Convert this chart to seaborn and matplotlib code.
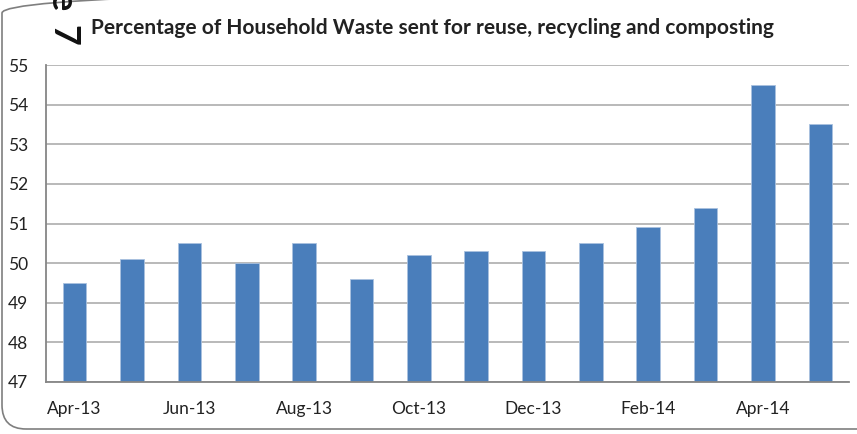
import matplotlib
matplotlib.use("Agg")
import matplotlib.pyplot as plt
import matplotlib.transforms as mtransforms
import seaborn as sns
import pandas as pd
from matplotlib.patches import FancyBboxPatch
from matplotlib.ticker import FixedLocator

months = ["Apr-13", "May-13", "Jun-13", "Jul-13", "Aug-13", "Sep-13", "Oct-13",
          "Nov-13", "Dec-13", "Jan-14", "Feb-14", "Mar-14", "Apr-14", "May-14"]
values = [49.5, 50.1, 50.5, 50.0, 50.5, 49.6, 50.2, 50.3, 50.3, 50.5, 50.9, 51.4, 54.5, 53.5]
yticks = list(range(47, 56))
title = "Percentage of Household Waste sent for reuse, recycling and composting"

sns.set_style("white")
plt.rcParams['font.family'] = ['Lato', 'DejaVu Sans']

df = pd.DataFrame({"month": months, "value": values})

fig = plt.figure(figsize=(8.57, 4.34), dpi=100)
ax = fig.add_axes([46/857, 1-382/434, 803/857, (382-65)/434])

sns.barplot(data=df, x="month", y="value", ax=ax, color="#4a7ebb",
            saturation=1, width=0.41, edgecolor="#a9c1df", linewidth=0.6)

ax.set_ylim(47, 55)
ax.set_xlim(-0.5, len(months) - 0.5)
ax.set_yticks(yticks)
ax.yaxis.grid(True, color="#a6a6a6", linewidth=1.1)
ax.set_axisbelow(True)
ax.set_xlabel("")
ax.set_ylabel("")

lab_pos = list(range(0, len(months), 2))
ax.xaxis.set_major_locator(FixedLocator(lab_pos))
ax.set_xticklabels([months[i] for i in lab_pos])
ax.xaxis.set_minor_locator(FixedLocator([i - 0.5 for i in range(0, len(months) + 1, 2)]))
ax.tick_params(axis="x", which="major", length=0, pad=14, labelsize=12.5, colors="#222222")
ax.tick_params(axis="x", which="minor", length=5, width=1.2, color="#868686", direction="out")
ax.tick_params(axis="y", which="major", length=5, width=1.2, color="#868686", direction="out",
               labelsize=12.5, labelcolor="#222222", pad=8)

for s in ["top", "right"]:
    ax.spines[s].set_visible(False)
for s in ["left", "bottom"]:
    ax.spines[s].set_color("#868686")
    ax.spines[s].set_linewidth(1.3)

fig.text(432/857, 1-28/434, title, ha="center", va="center",
         fontsize=15, fontweight="bold", color="#222222")

fig.text(63/857, 1-35/434, "7", rotation=-90, ha="center", va="center",
         fontsize=26, fontweight="bold", color="#111111")
fig.text(61/857, 1-2/434, "e", rotation=-90, ha="center", va="center",
         fontsize=26, fontweight="bold", color="#111111")

border = FancyBboxPatch((2, 5), 900, 440,
                        boxstyle="round,pad=0,rounding_size=24",
                        transform=mtransforms.IdentityTransform(), fill=False,
                        edgecolor="#7f7f7f", linewidth=1.2)
fig.patches.append(border)

fig.savefig("out.png", dpi=100)
